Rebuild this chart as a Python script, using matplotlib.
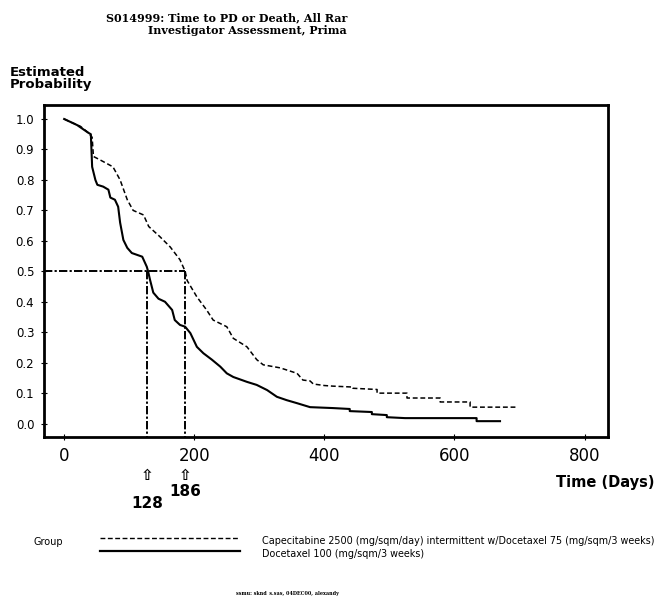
import matplotlib
matplotlib.use("Agg")
import matplotlib.pyplot as plt
from matplotlib.lines import Line2D

# Kaplan-Meier curves (days, estimated probability)
combo_days = [0, 10, 25, 37, 43, 45, 55, 75, 86, 97, 106, 122, 130, 147, 163, 178, 186,
              189, 204, 219, 229, 250, 260, 281, 296, 306, 332, 358, 367, 378, 383, 400,
              413, 444, 444, 481, 481, 527, 527, 578, 578, 624, 624, 697]
combo_prob = [1.0, 0.99, 0.976, 0.955, 0.94, 0.877, 0.866, 0.843, 0.80, 0.735, 0.70, 0.685,
              0.647, 0.614, 0.58, 0.538, 0.50, 0.47, 0.416, 0.373, 0.34, 0.318, 0.28, 0.252,
              0.21, 0.193, 0.183, 0.165, 0.143, 0.14, 0.13, 0.125, 0.123, 0.12, 0.116,
              0.112, 0.10, 0.10, 0.084, 0.084, 0.071, 0.071, 0.054, 0.054]

doce_days = [0, 10, 20, 37, 41, 43, 48, 51, 60, 68, 71, 78, 83, 86, 91, 97, 104, 120, 127,
             129, 132, 137, 145, 155, 166, 170, 178, 186, 194, 204, 214, 227, 240, 250, 260,
             281, 296, 312, 327, 342, 358, 378, 413, 439, 439, 473, 473, 496, 496, 524,
             634, 634, 670]
doce_prob = [1.0, 0.99, 0.98, 0.955, 0.95, 0.843, 0.80, 0.784, 0.778, 0.768, 0.742, 0.735,
             0.712, 0.66, 0.603, 0.577, 0.56, 0.548, 0.515, 0.50, 0.472, 0.43, 0.41, 0.40,
             0.373, 0.34, 0.324, 0.318, 0.297, 0.252, 0.231, 0.21, 0.187, 0.165, 0.153,
             0.137, 0.127, 0.11, 0.088, 0.077, 0.067, 0.054, 0.051, 0.048, 0.041, 0.038,
             0.031, 0.028, 0.021, 0.018, 0.018, 0.008, 0.008]

medians = [128, 186]
x_ticks = [0, 200, 400, 600, 800]
y_ticks = [0.0, 0.1, 0.2, 0.3, 0.4, 0.5, 0.6, 0.7, 0.8, 0.9, 1.0]
group_labels = ["Capecitabine 2500 (mg/sqm/day) intermittent w/Docetaxel 75 (mg/sqm/3 weeks)",
                "Docetaxel 100 (mg/sqm/3 weeks)"]

plt.rcParams['lines.scale_dashes'] = False

W, H = 656, 596
fig = plt.figure(figsize=(W / 100, H / 100), dpi=100)


def px(x, y):
    # pixel position -> figure fraction
    return x / W, 1 - y / H


ax = fig.add_axes([44 / W, 1 - 437 / H, 564 / W, 332 / H])
ax.set_xlim(-31, 836)
ax.set_ylim(-0.044, 1.046)

ax.plot(combo_days, combo_prob, color='black', lw=1.1, dashes=(3.5, 2))
ax.plot(doce_days, doce_prob, color='black', lw=1.5)

# median lines
dd = (6, 1.6, 1.6, 1.6)
ax.plot([-31, medians[1]], [0.5, 0.5], color='black', lw=1.4, dashes=dd)
for m in medians:
    ax.plot([m, m], [0.5, -0.044], color='black', lw=1.4, dashes=dd)

ax.set_xticks(x_ticks)
ax.set_xticklabels([str(v) for v in x_ticks], fontsize=12)
ax.set_yticks(y_ticks)
ax.set_yticklabels(['%.1f' % v for v in y_ticks], fontsize=8.5)
ax.tick_params(direction='inout', length=4, width=0.8, pad=5)
for s in ax.spines.values():
    s.set_linewidth(2)

# arrows and median values under the axis
for m, ly in zip(medians, [503, 491]):
    xf = ax.transData.transform((m, 0))[0] / W
    fig.text(xf, 1 - 475 / H, '\u21e7', ha='center', va='center', fontsize=11,
             weight='bold')
    fig.text(xf, 1 - ly / H, str(m), ha='center', va='center', fontsize=11,
             weight='semibold')

fig.text(*px(655, 483), 'Time (Days)', ha='right', va='center', fontsize=10.5,
         weight='semibold')
fig.text(*px(10, 72), 'Estimated', ha='left', va='center', fontsize=9.5,
         weight='semibold')
fig.text(*px(10, 85), 'Probability', ha='left', va='center', fontsize=9.5,
         weight='semibold')

fig.text(*px(347, 18), 'S014999: Time to PD or Death, All Rar', ha='right', va='center',
         family='DejaVu Serif', weight='bold', fontsize=8)
fig.text(*px(347, 31), 'Investigator Assessment, Prima', ha='right', va='center',
         family='DejaVu Serif', weight='bold', fontsize=8)

# legend block
fig.text(*px(33, 542), 'Group', ha='left', va='center', fontsize=7)
x0, y0 = px(100, 538)
x1, _ = px(238, 538)
fig.add_artist(Line2D([x0, x1], [y0, y0], color='black', lw=1.0, dashes=(3.5, 1.8),
                      transform=fig.transFigure))
x0, y1 = px(100, 551)
x1, _ = px(240, 551)
fig.add_artist(Line2D([x0, x1], [y1, y1], color='black', lw=1.6, transform=fig.transFigure))
fig.text(*px(262, 541), group_labels[0], ha='left', va='center', fontsize=6.9)
fig.text(*px(262, 554), group_labels[1], ha='left', va='center', fontsize=6.9)

fig.text(*px(287, 593), 'ssmu: sknd_s.sas, 04DEC00, alexandy', ha='center', va='center',
         fontsize=3.5, weight='bold', family='DejaVu Serif')

fig.savefig('out.png', dpi=100)
